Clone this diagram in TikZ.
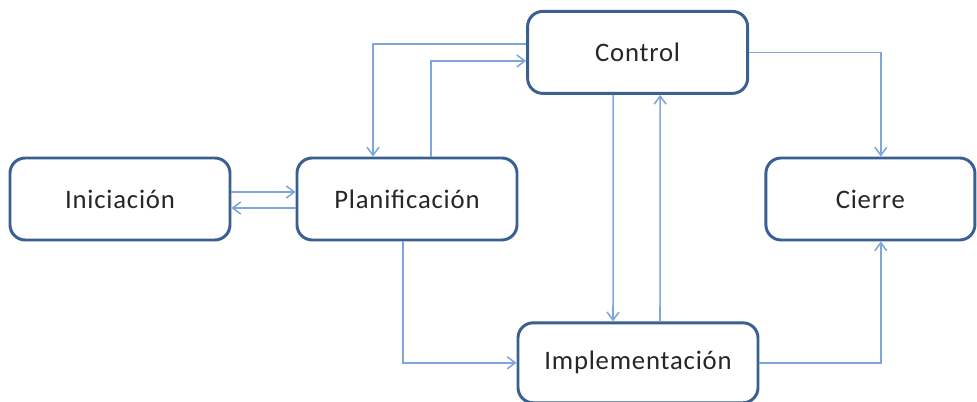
\documentclass[tikz,border=0pt]{standalone}
\usepackage{fontspec}
\setmainfont[LetterSpace=3]{Carlito}
\usepackage{xcolor}
\usetikzlibrary{arrows.meta}

\definecolor{boxline}{HTML}{3A5F91}
\definecolor{linkline}{HTML}{7FA6DA}

\begin{document}
\begin{tikzpicture}[
  phase/.style={
    draw=boxline,
    line width=2.1pt,
    rounded corners=0.38cm,
    fill=white,
    text=black!85,
    font=\fontsize{19}{22}\selectfont,
    minimum width=5.5cm,
    minimum height=2.05cm
  },
  link/.style={
    draw=linkline,
    line width=1.1pt,
    -{Straight Barb[length=0.2cm,width=0.3cm]}
  }
]
  \useasboundingbox (0,0) rectangle (24.425,10.05);

  % the five phases
  \node[phase] (ini) at (3.0,5.075) {Iniciación};
  \node[phase] (plan) at (10.175,5.075) {Planificación};
  \node[phase] (ctrl) at (15.94,8.74) {Control};
  \node[phase, minimum width=5.225cm] (cierre) at (21.76,5.075) {Cierre};
  \node[phase, minimum width=6cm, minimum height=2cm] (impl) at (15.95,0.98) {Implementación};

  % Iniciacion <-> Planificacion
  \draw[link] ([yshift=0.175cm]ini.east) -- ([yshift=0.175cm]plan.west);
  \draw[link] ([yshift=-0.225cm]plan.west) -- ([yshift=-0.225cm]ini.east);

  % Planificacion <-> Control
  \draw[link] ([yshift=0.21cm]ctrl.west) -| ([xshift=-0.85cm]plan.north);
  \draw[link] ([xshift=0.6cm]plan.north) |- ([yshift=-0.215cm]ctrl.west);

  % Control <-> Implementacion
  \draw[link] ([xshift=-0.61cm]ctrl.south) -- ([xshift=-0.625cm]impl.north);
  \draw[link] ([xshift=0.55cm]impl.north) -- ([xshift=0.565cm]ctrl.south);

  % Planificacion -> Implementacion
  \draw[link] ([xshift=-0.1cm]plan.south) |- (impl.west);

  % towards Cierre
  \draw[link] (ctrl.east) -| ([xshift=0.26cm]cierre.north);
  \draw[link] (impl.east) -| ([xshift=0.26cm]cierre.south);
\end{tikzpicture}
\end{document}
